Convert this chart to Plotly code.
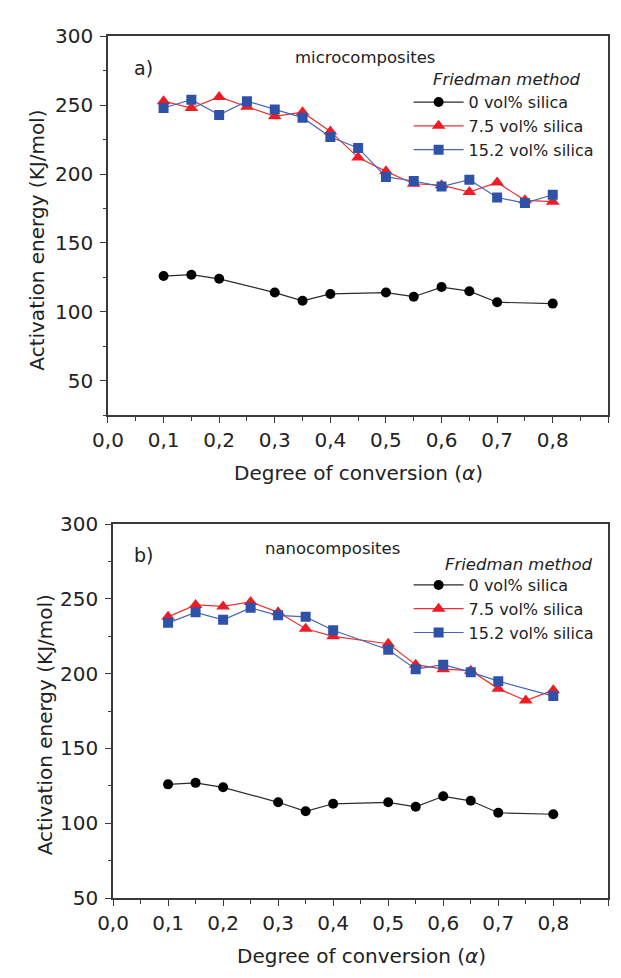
import plotly.graph_objects as go

# Degree of conversion for each series
alpha_black = [0.1, 0.15, 0.2, 0.3, 0.35, 0.4, 0.5, 0.55, 0.6, 0.65, 0.7, 0.8]
alpha_full = [0.1, 0.15, 0.2, 0.25, 0.3, 0.35, 0.4, 0.45, 0.5, 0.55, 0.6, 0.65, 0.7, 0.75, 0.8]
alpha_nano_75 = [0.1, 0.15, 0.2, 0.25, 0.3, 0.35, 0.4, 0.5, 0.55, 0.6, 0.65, 0.7, 0.75, 0.8]
alpha_nano_152 = [0.1, 0.15, 0.2, 0.25, 0.3, 0.35, 0.4, 0.5, 0.55, 0.6, 0.65, 0.7, 0.8]

# Activation energies (kJ/mol), Friedman method
micro_0 = [126, 127, 124, 114, 108, 113, 114, 111, 118, 115, 107, 106]
micro_75 = [253, 248, 256, 249, 242, 245, 231, 212, 202, 193, 192, 187, 194, 181, 180]
micro_152 = [248, 254, 243, 253, 247, 241, 227, 219, 198, 195, 191, 196, 183, 179, 185]

nano_0 = [126, 127, 124, 114, 108, 113, 114, 111, 118, 115, 107, 106]
nano_75 = [238, 246, 245, 248, 241, 230, 225, 220, 206, 203, 202, 190, 182, 189]
nano_152 = [234, 241, 236, 244, 239, 238, 229, 216, 203, 206, 201, 195, 185]

series_names = ["0 vol% silica", "7.5 vol% silica", "15.2 vol% silica"]
x_ticks = [0.0, 0.1, 0.2, 0.3, 0.4, 0.5, 0.6, 0.7, 0.8, 0.9]
x_tick_text = ["0,0", "0,1", "0,2", "0,3", "0,4", "0,5", "0,6", "0,7", "0,8", "0,9"]
y_ticks = [50, 100, 150, 200, 250, 300]

W, H = 621, 978
FONT = "DejaVu Sans"


def px_x(p):
    return p / W


def px_y(p):
    return 1 - p / H


styles = [
    dict(line=dict(color="#2a2a2a", width=1.2),
         marker=dict(symbol="circle", size=10, color="#000000")),
    dict(line=dict(color="#f03030", width=1.2),
         marker=dict(symbol="triangle-up", size=12, color="#ee1c24")),
    dict(line=dict(color="#4a66b8", width=1.2),
         marker=dict(symbol="square", size=10, color="#2e52a8")),
]

fig = go.Figure()

panels = [
    ("x", "y", "legend", [(alpha_black, micro_0), (alpha_full, micro_75), (alpha_full, micro_152)]),
    ("x2", "y2", "legend2", [(alpha_black, nano_0), (alpha_nano_75, nano_75), (alpha_nano_152, nano_152)]),
]

for xa, ya, leg, data in panels:
    for (xs, ys), name, st in zip(data, series_names, styles):
        fig.add_trace(go.Scatter(
            x=xs, y=ys, name=name, mode="lines+markers",
            line=st["line"], marker=st["marker"],
            xaxis=xa, yaxis=ya, legend=leg,
        ))

axis_common = dict(
    showline=True, linecolor="#3a3a3a", linewidth=1.5, mirror=True,
    ticks="outside", ticklen=6, tickwidth=1.3, tickcolor="#3a3a3a",
    showgrid=False, zeroline=False,
    tickfont=dict(family=FONT, size=20, color="#222222"),
)

xaxis_common = dict(
    axis_common, range=[0, 0.9], tickvals=x_ticks, ticktext=x_tick_text,
    minor=dict(ticks="outside", ticklen=4, tickwidth=1.2, tickcolor="#3a3a3a", dtick=0.05, tick0=0),
)

yaxis_common = dict(
    axis_common, tickvals=y_ticks, ticklabelstandoff=3,
    minor=dict(ticks="outside", ticklen=3, tickwidth=1.2, tickcolor="#3a3a3a", dtick=25, tick0=0),
)

legend_common = dict(
    font=dict(family=FONT, size=16, color="#222222"),
    bgcolor="rgba(0,0,0,0)", borderwidth=0, itemwidth=50,
    xanchor="left", yanchor="top", tracegroupgap=0,
)

title_font = dict(family=FONT, size=20, color="#222222")
label_font = dict(family=FONT, size=16.5, color="#222222")
italic_font = dict(family=FONT, size=16.5, color="#222222", style="italic")

annotations = [
    # top panel
    dict(text="a)", x=px_x(131), y=px_y(57), font=dict(family=FONT, size=19, color="#222222")),
    dict(text="microcomposites", x=px_x(358), y=px_y(47), font=label_font),
    dict(text="Friedman method", x=px_x(504), y=px_y(69), font=italic_font),
    dict(text="Activation energy (KJ/mol)", x=px_x(22), y=px_y(234), textangle=-90, font=title_font),
    dict(text="Degree of conversion (<i>α</i>)", x=px_x(352), y=px_y(473), font=title_font),
    # bottom panel
    dict(text="b)", x=px_x(131), y=px_y(557), font=dict(family=FONT, size=19, color="#222222")),
    dict(text="nanocomposites", x=px_x(325), y=px_y(550), font=label_font),
    dict(text="Friedman method", x=px_x(516), y=px_y(566), font=italic_font),
    dict(text="Activation energy (KJ/mol)", x=px_x(30), y=px_y(731), textangle=-90, font=title_font),
    dict(text="Degree of conversion (<i>α</i>)", x=px_x(355), y=px_y(968), font=title_font),
]
for a in annotations:
    a.update(xref="paper", yref="paper", showarrow=False, xanchor="center", yanchor="middle")

fig.update_layout(
    width=W, height=H,
    margin=dict(l=0, r=0, t=0, b=0),
    paper_bgcolor="white", plot_bgcolor="white",
    showlegend=True,
    xaxis=dict(xaxis_common, domain=[px_x(94.4), px_x(608)], anchor="y"),
    yaxis=dict(yaxis_common, domain=[px_y(413.3), px_y(25)], range=[25, 300], anchor="x"),
    xaxis2=dict(xaxis_common, domain=[px_x(99.6), px_x(608)], anchor="y2"),
    yaxis2=dict(yaxis_common, domain=[px_y(908.3), px_y(525)], range=[50, 300], anchor="x2"),
    legend=dict(legend_common, x=px_x(403), y=px_y(75)),
    legend2=dict(legend_common, x=px_x(403), y=px_y(570)),
    annotations=annotations,
)

fig.write_html("out.html")
